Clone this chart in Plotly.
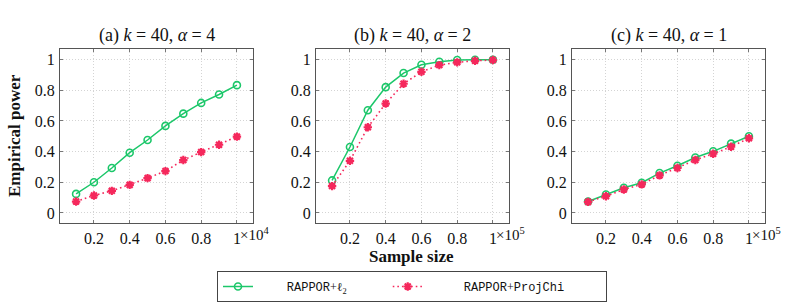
import plotly.graph_objects as go

x_vals = [0.1, 0.2, 0.3, 0.4, 0.5, 0.6, 0.7, 0.8, 0.9, 1.0]

a_l2 = [0.124, 0.200, 0.293, 0.393, 0.476, 0.568, 0.648, 0.718, 0.773, 0.834]
a_proj = [0.074, 0.114, 0.144, 0.183, 0.227, 0.273, 0.345, 0.397, 0.445, 0.498]
b_l2 = [0.212, 0.430, 0.670, 0.821, 0.913, 0.967, 0.987, 0.998, 1.000, 1.000]
b_proj = [0.175, 0.340, 0.559, 0.714, 0.843, 0.921, 0.965, 0.983, 0.993, 0.998]
c_l2 = [0.074, 0.120, 0.164, 0.197, 0.260, 0.308, 0.362, 0.402, 0.452, 0.500]
c_proj = [0.072, 0.109, 0.153, 0.186, 0.245, 0.293, 0.345, 0.386, 0.432, 0.487]

titles = ["(a) <i>k</i> = 40, <i>α</i> = 4",
          "(b) <i>k</i> = 40, <i>α</i> = 2",
          "(c) <i>k</i> = 40, <i>α</i> = 1"]
exponents = ["4", "5", "5"]
xtick_vals = [0.2, 0.4, 0.6, 0.8, 1.0]
xtick_text = ["0.2", "0.4", "0.6", "0.8", "1"]
ytick_vals = [0, 0.2, 0.4, 0.6, 0.8, 1.0]
ytick_text = ["0", "0.2", "0.4", "0.6", "0.8", "1"]

SERIF = "Liberation Serif, DejaVu Serif, serif"
MONO = "Liberation Mono, DejaVu Sans Mono, monospace"
GREEN = "#1cc76a"
RED = "#f5285c"

NB = "\u00a0"
legend_names = [
    NB * 4 + "RAPPOR<span style='font-family:Liberation Serif'>+ℓ<sub>2</sub></span>" + NB * 5,
    NB * 5 + "RAPPOR<span style='font-family:Liberation Serif'>+</span>ProjChi" + NB * 5,
]

W, H = 789, 303
px_domains = [(60, 253), (316, 509), (572, 765)]
y_dom = [(H - 222.7) / H, (H - 49) / H]

fig = go.Figure()
data = [(a_l2, a_proj), (b_l2, b_proj), (c_l2, c_proj)]
for i, (l2, pj) in enumerate(data):
    xa = "x" if i == 0 else f"x{i+1}"
    ya = "y" if i == 0 else f"y{i+1}"
    fig.add_trace(go.Scatter(
        x=x_vals, y=l2, xaxis=xa, yaxis=ya, mode="lines+markers",
        name=legend_names[0], showlegend=(i == 0),
        line=dict(color=GREEN, width=1.5),
        marker=dict(symbol="circle-open", size=7, color=GREEN, line=dict(width=1.6, color=GREEN)),
    ))
    fig.add_trace(go.Scatter(
        x=x_vals, y=pj, xaxis=xa, yaxis=ya, mode="lines+markers",
        name=legend_names[1], showlegend=(i == 0),
        line=dict(color=RED, width=1.6, dash="1.6px,3px"),
        marker=dict(symbol="asterisk-open", size=7, color=RED, line=dict(width=2.2, color=RED)),
    ))

axis_common = dict(showline=True, mirror="allticks", linecolor="#555555", linewidth=1,
                   showgrid=True, gridcolor="#d4d4d4", griddash="1px,2px", gridwidth=0.8,
                   zeroline=False, ticks="inside", ticklen=3, tickcolor="#777777", tickwidth=0.8,
                   tickfont=dict(family=SERIF, size=16, color="#111"))
layout = {}
for i, (l, r) in enumerate(px_domains):
    xk = "xaxis" if i == 0 else f"xaxis{i+1}"
    yk = "yaxis" if i == 0 else f"yaxis{i+1}"
    layout[xk] = dict(domain=[l / W, r / W], range=[0.01, 1.09], tickvals=xtick_vals,
                      ticktext=xtick_text, anchor="y" if i == 0 else f"y{i+1}",
                      ticklabelstandoff=1, **axis_common)
    layout[yk] = dict(domain=y_dom, range=[-0.064, 1.07], tickvals=ytick_vals,
                      ticktext=ytick_text, anchor="x" if i == 0 else f"x{i+1}",
                      ticklabelstandoff=1, **axis_common)
fig.update_layout(**layout)

annotations = []
for i, (l, r) in enumerate(px_domains):
    annotations.append(dict(text=titles[i], x=(l + r) / 2 / W, y=(H - 35.5) / H,
                            xref="paper", yref="paper", showarrow=False,
                            font=dict(family=SERIF, size=18, color="#111"),
                            xanchor="center", yanchor="middle"))
    annotations.append(dict(text=f"×10<sup>{exponents[i]}</sup>",
                            x=1.0, xref="x" if i == 0 else f"x{i+1}",
                            y=(H - 234) / H, yref="paper", xshift=2, borderpad=0,
                            showarrow=False, xanchor="left", yanchor="middle",
                            font=dict(family=SERIF, size=15, color="#111")))
annotations.append(dict(text="<b>Empirical power</b>", x=14 / W, y=(H - 136) / H,
                        xref="paper", yref="paper", textangle=-90, showarrow=False,
                        font=dict(family=SERIF, size=17, color="#111"),
                        xanchor="center", yanchor="middle"))
annotations.append(dict(text="<b>Sample size</b>", x=412 / W, y=(H - 256.5) / H,
                        xref="paper", yref="paper", showarrow=False,
                        font=dict(family=SERIF, size=17, color="#111"),
                        xanchor="center", yanchor="middle"))

fig.update_layout(
    width=W, height=H, margin=dict(l=0, r=0, t=0, b=0),
    paper_bgcolor="white", plot_bgcolor="white",
    annotations=annotations,
    legend=dict(orientation="h", x=217 / W, xanchor="left", y=1 / H, yanchor="bottom",
                bordercolor="#444444", borderwidth=1,
                font=dict(family=MONO, size=12, color="#111"),
                itemwidth=30, tracegroupgap=0),
)
fig.write_html("out.html", config={"displayModeBar": False},
               post_script="document.body.style.margin='0';document.body.style.overflow='hidden';")
